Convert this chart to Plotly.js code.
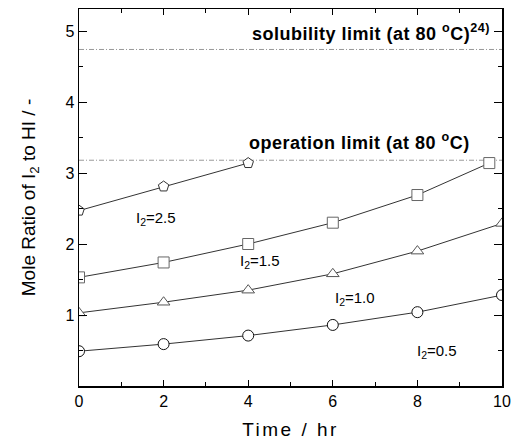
<!DOCTYPE html>
<html>
<head>
<meta charset="utf-8">
<script src="https://cdn.plot.ly/plotly-3.0.1.min.js"></script>
<style>html,body{margin:0;padding:0;background:#fff;}#chart{width:513px;height:444px;}</style>
</head>
<body>
<div id="chart"></div>
<script>
// Data
const time05 = [0, 2, 4, 6, 8, 10];
const ratio05 = [0.49, 0.59, 0.71, 0.86, 1.04, 1.28];
const time10 = [0, 2, 4, 6, 8, 10];
const ratio10 = [1.03, 1.18, 1.35, 1.58, 1.90, 2.29];
const time15 = [0, 2, 4, 6, 8, 9.7];
const ratio15 = [1.53, 1.74, 2.00, 2.30, 2.69, 3.14];
const time25 = [0, 2, 4];
const ratio25 = [2.47, 2.81, 3.14];
const limitX = [0, 10];
const solubilityLimit = 4.74;
const operationLimit = 3.18;
const seriesLabels = ['I<sub>2</sub>=0.5', 'I<sub>2</sub>=1.0', 'I<sub>2</sub>=1.5', 'I<sub>2</sub>=2.5'];
const labelPos = [[7.95, 0.49], [6.0, 1.23], [3.75, 1.75], [1.3, 2.36]];

const font = 'Liberation Sans, Arial, sans-serif';
const lineCol = '#333';
function series(x, y, sym, mcol) {
  return {x: x, y: y, type: 'scatter', mode: 'lines+markers',
    line: {color: lineCol, width: 1},
    marker: {symbol: sym, size: 11, color: '#fff', line: {color: mcol, width: 1}},
    showlegend: false, hoverinfo: 'skip'};
}
const limitLine = {color: '#999', width: 1, dash: '5px,2px,1px,2px'};
const traces = [
  {x: limitX, y: [solubilityLimit, solubilityLimit], type: 'scatter', mode: 'lines',
   line: limitLine, showlegend: false},
  {x: limitX, y: [operationLimit, operationLimit], type: 'scatter', mode: 'lines',
   line: limitLine, showlegend: false},
  series(time05, ratio05, 'circle', '#111'),
  series(time10, ratio10, 'triangle-up', '#555'),
  series(time15, ratio15, 'square', '#666'),
  series(time25, ratio25, 'pentagon', '#333')
];

const annotations = labelPos.map((p, i) => ({
  x: p[0], y: p[1], text: seriesLabels[i], showarrow: false,
  xanchor: 'left', yanchor: 'middle', font: {family: font, size: 15, color: '#000'}
}));
annotations.push({x: 4.05, y: 4.98, xanchor: 'left', yanchor: 'middle', showarrow: false,
  text: '<span style="letter-spacing:0.5px"><b>solubility limit (at 80 <sup>o</sup>C)<sup>24)</sup></b></span>', font: {family: font, size: 18, color: '#000'}});
annotations.push({x: 3.97, y: 3.45, xanchor: 'left', yanchor: 'middle', showarrow: false,
  text: '<span style="letter-spacing:0.5px"><b>operation limit (at 80 <sup>o</sup>C)</b></span>', font: {family: font, size: 18, color: '#000'}});

const layout = {
  width: 513, height: 444,
  margin: {l: 79, r: 11, t: 9, b: 58},
  paper_bgcolor: '#fff', plot_bgcolor: '#fff',
  font: {family: font, color: '#000'},
  xaxis: {range: [0, 10], dtick: 2, tick0: 0, showgrid: false, zeroline: false,
    showline: true, linecolor: '#000', linewidth: 1.5, mirror: 'allticks',
    ticks: 'inside', ticklen: 6, tickwidth: 1, tickcolor: '#000',
    minor: {ticks: 'inside', dtick: 1, ticklen: 4, tickcolor: '#000', showgrid: false},
    tickfont: {size: 16, family: font},
    title: {text: '<span style="letter-spacing:2.5px">Time / hr</span>', font: {size: 19, family: font}, standoff: 14}},
  yaxis: {range: [0, 5.31], dtick: 1, tick0: 0, showgrid: false, zeroline: false,
    showline: true, linecolor: '#000', linewidth: 1.5, mirror: 'allticks',
    ticks: 'inside', ticklen: 8, tickwidth: 1, tickcolor: '#000',
    minor: {ticks: 'inside', dtick: 0.5, ticklen: 4, tickcolor: '#000', showgrid: false},
    tickfont: {size: 16, family: font}, tickvals: [1, 2, 3, 4, 5],
    title: {text: 'Mole Ratio of I<sub>2</sub> to HI / -', font: {size: 19, family: font}, standoff: 24}},
  annotations: annotations
};
Plotly.newPlot('chart', traces, layout, {staticPlot: true});
</script>
</body>
</html>
